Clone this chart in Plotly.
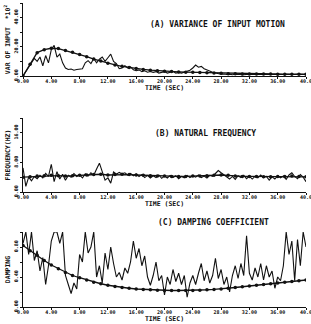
import plotly.graph_objects as go

# ---------------- data ----------------
# sample grids (seconds)
t_fine = [round(i * 0.4, 1) for i in range(101)]
t_coarse = list(range(41))

# (A) variance of input motion (*10^2)
var_raw = [0, 3, 6, 9, 12, 10, 13, 7, 14, 9,
           18, 21, 13, 15, 9, 5.5, 4.5, 4.8, 4, 4.5,
           4.6, 5, 9, 10.5, 8.5, 12, 9, 11.5, 13, 10,
           12.5, 15, 10, 8.5, 5, 5.5, 7, 5.5, 6.3, 4.2,
           3.6, 4.2, 3, 3.6, 2.6, 3.1, 2.5, 3, 2, 2.6,
           3, 2, 2.6, 3.1, 2, 2.5, 2, 2.6, 3.1, 4,
           5.5, 7.5, 6, 6.6, 5, 4, 3.4, 2.5, 2, 1.5,
           1.2, 1.4, 1, 1.3, 0.9, 1.2, 1, 1.3, 0.9, 1.1,
           1, 1.3, 0.9, 1.2, 1, 1.1, 0.9, 1.2, 1, 1.1,
           0.9, 1.2, 1, 1.1, 0.9, 1.2, 1, 1.1, 0.9, 1, 1]
var_smooth = [0, 8, 16, 18, 19, 18.8, 17.5, 16.2, 14.8, 13.2,
              11.6, 10.2, 8.8, 7.6, 6.6, 5.8, 5.1, 4.5, 4.0, 3.6,
              3.3, 3.0, 2.8, 2.6, 2.5, 2.4, 2.2, 2.0, 1.8, 1.6,
              1.5, 1.4, 1.4, 1.3, 1.3, 1.3, 1.2, 1.2, 1.2, 1.2, 1.2]

# (B) natural frequency (Hz)
freq_raw = [6.5, 1.5, 4, 3, 4.2, 3.6, 4.5, 3.8, 5, 4.2,
            7.5, 2.8, 5.5, 3.5, 4.8, 3.2, 4.5, 4, 5, 4.2,
            4.6, 3.8, 4.9, 4.3, 5.2, 4.5, 6.2, 7.8, 5.5, 3.2,
            3.8, 2.4, 5.4, 4.8, 5.3, 4.9, 5.2, 4.6, 5, 4.4,
            4.9, 4.2, 4.7, 3.9, 4.5, 3.8, 4.4, 3.9, 4.6, 3.7,
            4.3, 3.8, 4.5, 3.9, 4.4, 3.6, 4.2, 3.8, 4.5, 3.9,
            4.4, 4, 4.6, 3.9, 4.3, 3.8, 4.5, 4.2, 5, 5.8,
            5.2, 4.6, 4.1, 3.5, 4.2, 3.4, 4.4, 3.9, 4.5, 3.6,
            4.3, 3.5, 4.2, 3.8, 4.6, 3.9, 4.2, 3.2, 4.1, 3.5,
            4.4, 3.8, 4.3, 3.4, 4.6, 5.2, 4.2, 3.6, 4.7, 4.0, 2.8]
freq_smooth = [4.0, 4.1, 4.3, 4.4, 4.5, 4.4, 4.3, 4.4, 4.5, 4.6,
               4.7, 4.8, 4.6, 4.7, 4.8, 4.7, 4.6, 4.5, 4.4, 4.3,
               4.3, 4.2, 4.2, 4.2, 4.3, 4.3, 4.4, 4.5, 4.6, 4.5,
               4.3, 4.2, 4.2, 4.2, 4.1, 4.1, 4.2, 4.2, 4.3, 4.2, 4.1]

# (C) damping coefficient
damp_raw = [0.85, 1.0, 0.7, 1.0, 0.62, 0.75, 0.48, 0.66, 0.3, 0.55,
            0.88, 1.0, 1.0, 0.85, 1.0, 0.42, 0.3, 0.18, 0.32, 0.24,
            0.7, 0.6, 1.0, 0.72, 0.8, 1.0, 0.4, 0.55, 0.32, 0.72,
            0.5, 0.8, 0.58, 0.4, 0.46, 0.36, 0.52, 0.45, 0.6, 0.88,
            0.65, 0.78, 0.55, 0.68, 0.4, 0.29, 0.42, 0.6, 0.35, 0.42,
            0.16, 0.4, 0.3, 0.5, 0.34, 0.45, 0.3, 0.42, 0.13, 0.32,
            0.42, 0.3, 0.45, 0.58, 0.35, 0.48, 0.32, 0.42, 0.65, 0.38,
            0.5, 0.3, 0.4, 0.2, 0.42, 0.55, 0.38, 0.58, 0.42, 0.95,
            0.45, 0.36, 0.52, 0.4, 0.58, 0.36, 0.55, 0.4, 0.48, 0.25,
            0.4, 0.35, 0.55, 1.0, 0.7, 0.88, 0.35, 0.9, 0.55, 1.0, 0.8]
damp_smooth = [0.82, 0.75, 0.69, 0.62, 0.56, 0.51, 0.46, 0.42, 0.39, 0.36,
               0.33, 0.31, 0.29, 0.275, 0.26, 0.25, 0.24, 0.235, 0.23, 0.225,
               0.22, 0.22, 0.22, 0.22, 0.22, 0.225, 0.23, 0.235, 0.24, 0.25,
               0.26, 0.27, 0.28, 0.29, 0.30, 0.31, 0.32, 0.33, 0.34, 0.35, 0.36]

# tick labels
x_tickvals = [0, 4, 8, 12, 16, 20, 24, 28, 32, 36, 40]
x_ticktext = ["0.00", "4.00", "8.00", "12.00", "16.00", "20.00",
              "24.00", "28.00", "32.00", "36.00", "40.0"]
a_tickvals = [0, 20, 40]
a_ticktext = ["0.00", "20.00", "40.00"]
a_minor = [10, 30, 50]
b_tickvals = [0, 8, 16]
b_ticktext = ["0.00", "8.00", "16.00"]
b_minor = [4, 12, 20]
c_tickvals = [0, 0.4, 0.8]
c_ticktext = ["0.00", "0.40", "0.80"]
c_minor = [0.2, 0.6, 1.0]

panel_titles = ["(A) VARIANCE OF INPUT MOTION", "(B) NATURAL FREQUENCY",
                "(C) DAMPING COEFFICIENT"]
y_titles = ["VAR OF INPUT  *10<sup>2</sup>", "FREQUENCY(HZ)", "DAMPING"]
x_title = "TIME (SEC)"

# ---------------- figure ----------------
W, H = 311, 324
FONT = "DejaVu Sans Mono"
INK = "#111111"

def py(px):
    return 1 - px / H

xdom = [23 / W, 306 / W]
ydoms = [[py(76), py(3)], [py(192), py(118)], [py(307), py(232)]]

fig = go.Figure()

series = [(var_raw, var_smooth), (freq_raw, freq_smooth), (damp_raw, damp_smooth)]
for i, (raw, smooth) in enumerate(series):
    xa = "x" if i == 0 else f"x{i+1}"
    ya = "y" if i == 0 else f"y{i+1}"
    fig.add_trace(go.Scatter(x=t_fine, y=raw, mode="lines",
                             line=dict(color=INK, width=1.1),
                             xaxis=xa, yaxis=ya, showlegend=False,
                             hoverinfo="skip"))
    fig.add_trace(go.Scatter(x=t_coarse, y=smooth, mode="lines+markers",
                             line=dict(color=INK, width=1.3),
                             marker=dict(color=INK, size=3.5),
                             xaxis=xa, yaxis=ya, showlegend=False,
                             hoverinfo="skip"))

yranges = [[0, 50], [0, 20], [0, 1.0]]
yticks = [(a_tickvals, a_ticktext, a_minor), (b_tickvals, b_ticktext, b_minor),
          (c_tickvals, c_ticktext, c_minor)]

layout = dict(width=W, height=H, margin=dict(l=0, r=0, t=0, b=0),
              paper_bgcolor="white", plot_bgcolor="white",
              font=dict(family=FONT, color=INK, weight="bold"),
              showlegend=False)

for i in range(3):
    xk = "xaxis" if i == 0 else f"xaxis{i+1}"
    yk = "yaxis" if i == 0 else f"yaxis{i+1}"
    ya = "y" if i == 0 else f"y{i+1}"
    xa = "x" if i == 0 else f"x{i+1}"
    layout[xk] = dict(domain=xdom, anchor=ya, range=[0, 40],
                      tickvals=x_tickvals, ticktext=x_ticktext,
                      ticks="outside", ticklen=2, tickwidth=1.2, tickcolor=INK,
                      showline=True, linecolor=INK, linewidth=1.3,
                      showgrid=False, zeroline=False, automargin=False,
                      ticklabeloverflow="allow", ticklabelstandoff=-2,
                      tickfont=dict(size=5, family=FONT, weight="bold"),
                      title=dict(text=x_title, font=dict(size=6.5, family=FONT, weight="bold"),
                                 standoff=0))
    layout[yk] = dict(domain=ydoms[i], anchor=xa, range=yranges[i],
                      tickvals=yticks[i][0], ticktext=yticks[i][1],
                      minor=dict(tickvals=yticks[i][2], ticks="outside", ticklen=2,
                                 tickwidth=1.2, tickcolor=INK, showgrid=False),
                      ticks="outside", ticklen=2, tickwidth=1.2, tickcolor=INK,
                      showline=True, linecolor=INK, linewidth=1.3,
                      showgrid=False, zeroline=False, automargin=False,
                      ticklabeloverflow="allow",
                      tickangle=-90,
                      tickfont=dict(size=5, family=FONT, weight="bold"),
                      title=dict(text=y_titles[i],
                                 font=dict(size=6.5, family=FONT, weight="bold"),
                                 standoff=1))

fig.update_layout(**layout)

title_pos = [(217, 24), (205, 133), (213, 222)]
for txt, (cx, cy) in zip(panel_titles, title_pos):
    fig.add_annotation(text=txt, x=cx / W, y=py(cy), xref="paper", yref="paper",
                       showarrow=False, xanchor="center", yanchor="middle",
                       font=dict(size=8, family=FONT, color=INK, weight="bold"))

fig.write_html("out.html", config={"displayModeBar": False},
               post_script="document.body.style.margin='0';document.body.style.overflow='hidden';")
